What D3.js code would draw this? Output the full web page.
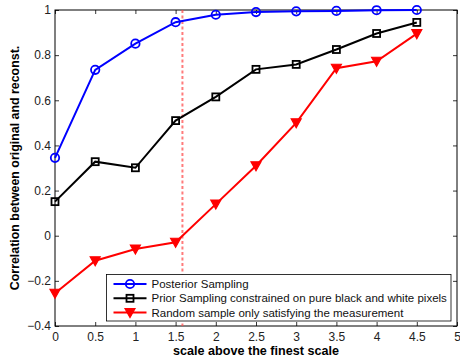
<!DOCTYPE html>
<html>
<head>
<meta charset="utf-8">
<script src="https://cdn.jsdelivr.net/npm/d3@7"></script>
<style>
  html, body { margin: 0; padding: 0; background: #fff; }
  svg text { font-family: "Liberation Sans", Arial, Helvetica, sans-serif; }
</style>
</head>
<body>
<svg id="chart" width="460" height="363"></svg>
<script>
// Scales above the finest scale
const scales = [0, 0.5, 1, 1.5, 2, 2.5, 3, 3.5, 4, 4.5];

// Correlation between original and reconstruction for each method
const posteriorSampling = [0.345, 0.735, 0.851, 0.946, 0.979, 0.991, 0.994, 0.996, 0.999, 1.0];
const priorSampling     = [0.151, 0.328, 0.301, 0.510, 0.615, 0.737, 0.759, 0.825, 0.896, 0.945];
const randomSample      = [-0.255, -0.111, -0.059, -0.029, 0.140, 0.310, 0.500, 0.742, 0.773, 0.895];

const seriesNames = [
  "Posterior Sampling",
  "Prior Sampling constrained on pure black and white pixels",
  "Random sample only satisfying the measurement"
];

// Vertical reference marker (log2 of 3)
const markerScale = [Math.log2(3)];

const xTicks = [0, 0.5, 1, 1.5, 2, 2.5, 3, 3.5, 4, 4.5, 5];
const yTicks = [-0.4, -0.2, 0, 0.2, 0.4, 0.6, 0.8, 1];

const svg = d3.select("#chart");
const plotL = 55, plotR = 457, plotT = 10, plotB = 326;

const x = d3.scaleLinear().domain([0, 5]).range([plotL, plotR]);
const y = d3.scaleLinear().domain([-0.4, 1]).range([plotB, plotT]);

const fmt = v => String(+v.toFixed(2)).replace("-", "\u2212");

// Frame
svg.append("rect")
  .attr("x", plotL).attr("y", plotT)
  .attr("width", plotR - plotL).attr("height", plotB - plotT)
  .attr("fill", "none").attr("stroke", "#000").attr("stroke-width", 1);

// Axes with inward ticks
const tickLen = 4;
const xAxisB = d3.axisBottom(x).tickValues(xTicks).tickSizeInner(-tickLen).tickSizeOuter(0).tickPadding(6).tickFormat(fmt);
const xAxisT = d3.axisTop(x).tickValues(xTicks).tickSizeInner(-tickLen).tickSizeOuter(0).tickFormat("");
const yAxisL = d3.axisLeft(y).tickValues(yTicks).tickSizeInner(-tickLen).tickSizeOuter(0).tickPadding(4).tickFormat(fmt);
const yAxisR = d3.axisRight(y).tickValues(yTicks).tickSizeInner(-tickLen).tickSizeOuter(0).tickFormat("");

function styleAxis(g) {
  g.select(".domain").remove();
  g.selectAll(".tick line").attr("stroke", "#000").attr("stroke-width", 0.8);
  g.selectAll(".tick text").attr("fill", "#222").style("font-size", "12px")
    .style("font-family", "'Liberation Sans', Arial, sans-serif");
}

svg.append("g").attr("transform", `translate(0,${plotB})`).call(xAxisB).call(styleAxis);
svg.append("g").attr("transform", `translate(0,${plotT})`).call(xAxisT).call(styleAxis);
svg.append("g").attr("transform", `translate(${plotL},0)`).call(yAxisL).call(styleAxis);
svg.append("g").attr("transform", `translate(${plotR},0)`).call(yAxisR).call(styleAxis);

// Dashed vertical marker
svg.selectAll(".marker").data(markerScale).enter().append("line")
  .attr("x1", d => x(d)).attr("x2", d => x(d))
  .attr("y1", plotT).attr("y2", plotB)
  .attr("stroke", "#ff5050").attr("stroke-width", 2)
  .attr("stroke-dasharray", "3,2.5").attr("opacity", 0.75);

// Series
const series = [
  { name: seriesNames[0], values: posteriorSampling, color: "#0000ff", shape: "circle" },
  { name: seriesNames[1], values: priorSampling, color: "#000000", shape: "square" },
  { name: seriesNames[2], values: randomSample, color: "#ff0000", shape: "triangle" }
];

const line = d3.line().x(d => x(d[0])).y(d => y(d[1]));

function drawMarker(g, shape, color) {
  if (shape === "circle") {
    g.append("circle").attr("r", 4.2).attr("fill", "none").attr("stroke", color).attr("stroke-width", 1.8);
  } else if (shape === "square") {
    g.append("rect").attr("x", -3.5).attr("y", -3.5).attr("width", 7).attr("height", 7)
      .attr("fill", "none").attr("stroke", color).attr("stroke-width", 1.8);
  } else {
    g.append("path").attr("d", "M-5,-4 L5,-4 L0,5 Z")
      .attr("fill", color).attr("stroke", color).attr("stroke-width", 1.2).attr("stroke-linejoin", "miter");
  }
}

series.forEach(s => {
  const pts = scales.map((sc, i) => [sc, s.values[i]]);
  svg.append("path").datum(pts)
    .attr("d", line).attr("fill", "none")
    .attr("stroke", s.color).attr("stroke-width", 2);
  pts.forEach(p => {
    const g = svg.append("g").attr("transform", `translate(${x(p[0])},${y(p[1])})`);
    drawMarker(g, s.shape, s.color);
  });
});

// Legend
const lg = svg.append("g");
const lgX = 106.5, lgY = 274.5, lgW = 344.5, lgH = 46.5;
lg.append("rect").attr("x", lgX).attr("y", lgY).attr("width", lgW).attr("height", lgH)
  .attr("fill", "#fff").attr("stroke", "#000").attr("stroke-width", 0.8);
series.forEach((s, i) => {
  const cy = lgY + 9.5 + i * 14.3;
  lg.append("line").attr("x1", lgX + 7).attr("x2", lgX + 40)
    .attr("y1", cy).attr("y2", cy).attr("stroke", s.color).attr("stroke-width", 2);
  const g = lg.append("g").attr("transform", `translate(${lgX + 23.5},${cy})`);
  drawMarker(g, s.shape, s.color);
  lg.append("text").attr("x", lgX + 45).attr("y", cy).attr("dy", "0.35em")
    .style("font-size", "11.5px").attr("fill", "#111").text(s.name);
});

// Axis titles
svg.append("text")
  .attr("x", (plotL + plotR) / 2).attr("y", 355)
  .attr("text-anchor", "middle").style("font-size", "12.6px").style("font-weight", "bold")
  .text("scale above the finest scale");

svg.append("text")
  .attr("transform", `translate(19,${(plotT + plotB) / 2}) rotate(-90)`)
  .attr("text-anchor", "middle").style("font-size", "12.4px").style("font-weight", "bold")
  .text("Correlation between original and reconst.");
</script>
</body>
</html>
